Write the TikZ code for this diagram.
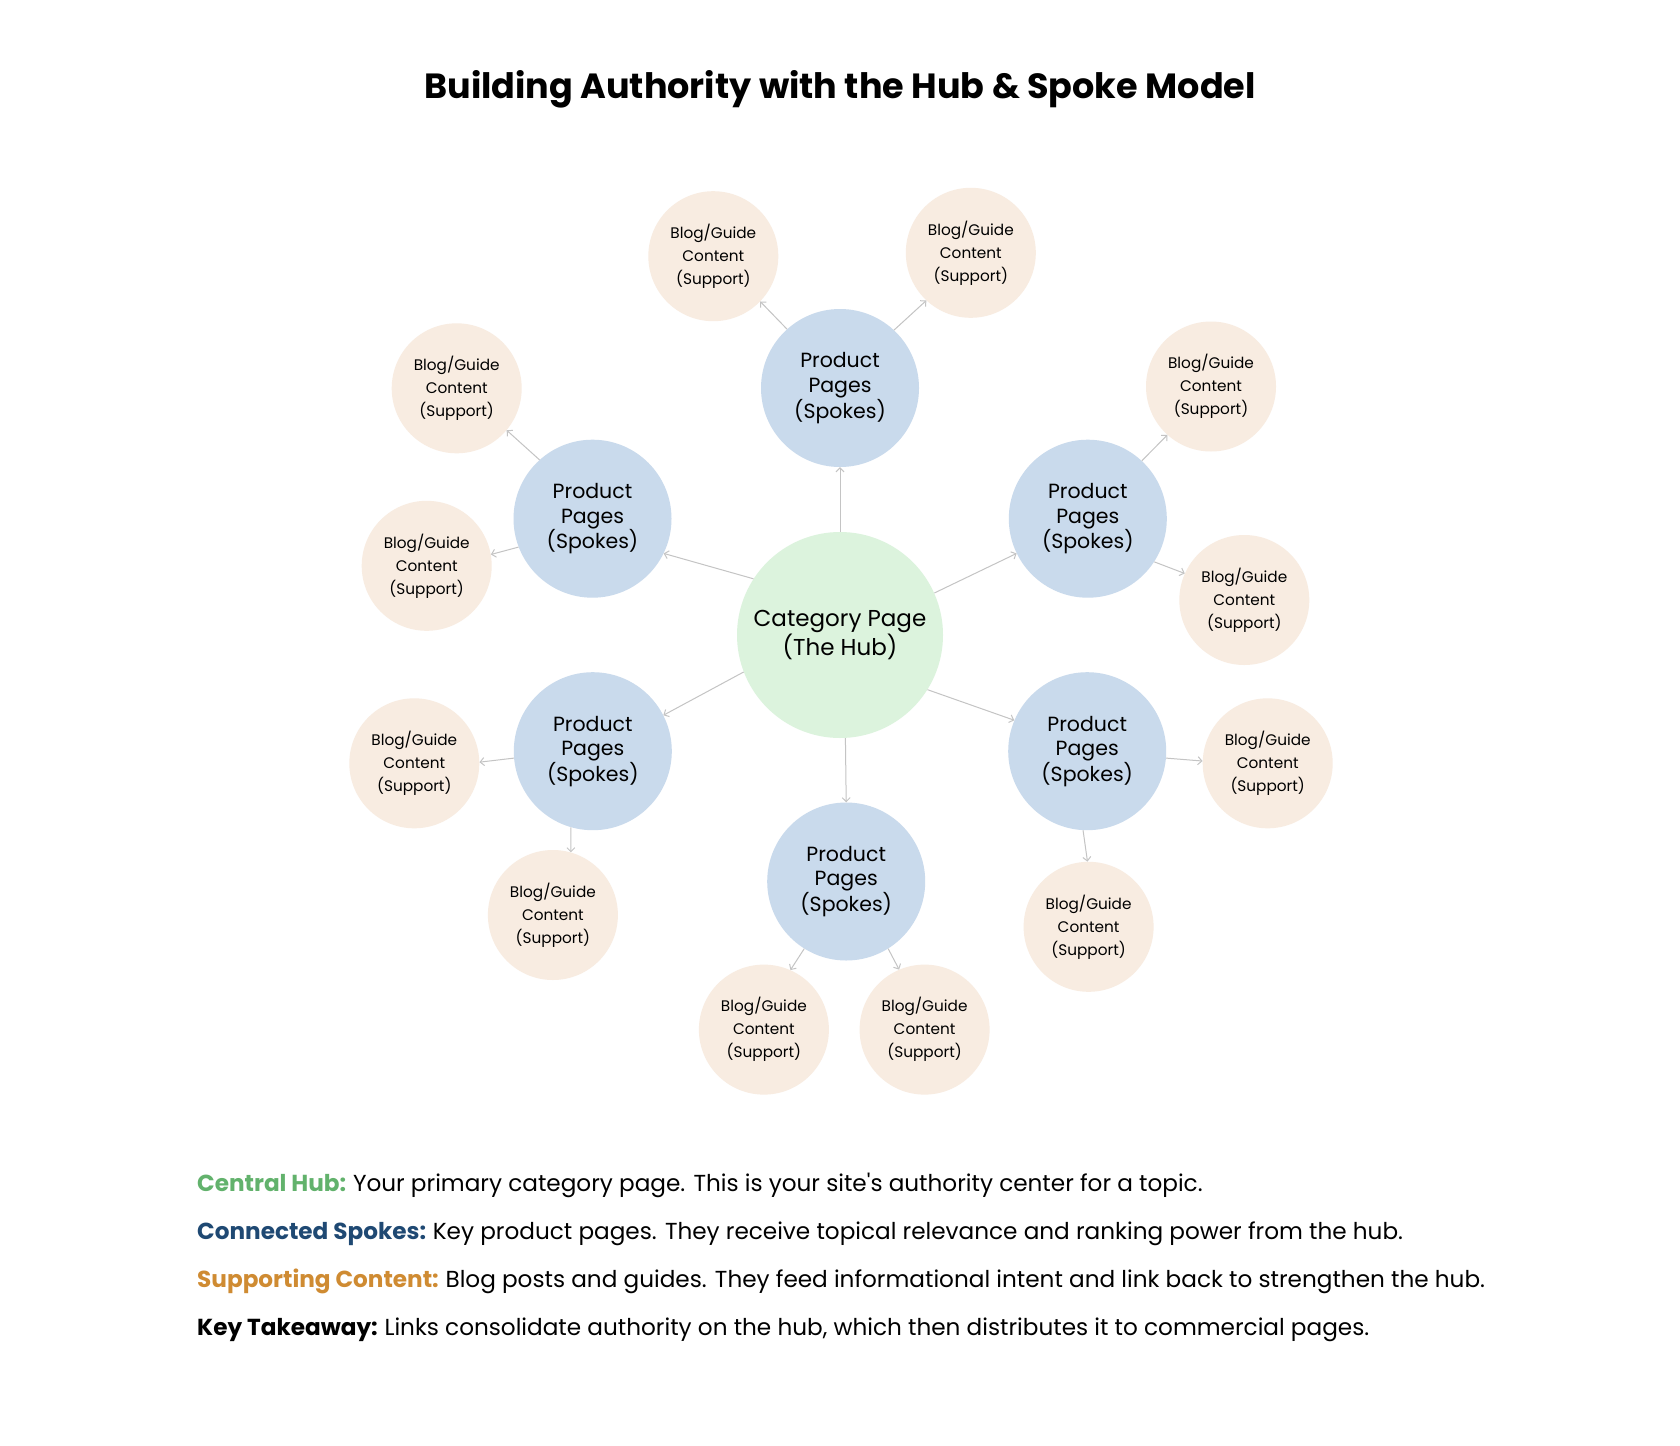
\documentclass[tikz,border=0pt]{standalone}
\usepackage{fontspec}
\setmainfont{Poppins}[Ligatures=TeXOff]
\usetikzlibrary{arrows.meta}
\definecolor{hubfill}{RGB}{220,243,221}
\definecolor{spokefill}{RGB}{201,218,236}
\definecolor{supfill}{RGB}{248,236,225}
\definecolor{linkgray}{RGB}{196,196,196}
\definecolor{hubgreen}{RGB}{98,178,108}
\definecolor{spokenavy}{RGB}{31,73,115}
\definecolor{suporange}{RGB}{207,139,50}
\tikzset{
  hubnode/.style={circle,fill=hubfill,minimum size=206pt,inner sep=0pt,align=center,font=\fontsize{23}{29}\selectfont},
  spokenode/.style={circle,fill=spokefill,minimum size=158pt,inner sep=0pt,align=center,font=\fontsize{20.5}{24.5}\selectfont},
  supnode/.style={circle,fill=supfill,minimum size=130pt,inner sep=0pt,align=center,font=\fontsize{15.3}{23}\selectfont},
  link/.style={draw=linkgray,line width=1pt,-{Straight Barb[length=4pt,width=8pt,line width=1pt]}},
  legend/.style={anchor=base west,inner sep=0pt,font=\fontsize{23.15}{28}\selectfont}
}
\begin{document}
\begin{tikzpicture}[x=1pt,y=-1pt]
\fill[white] (0,0) rectangle (1680,1445);
\useasboundingbox (0,0) rectangle (1680,1445);

\node[inner sep=0pt,font=\fontsize{35}{42}\selectfont\bfseries] (title) at (840,89) {Building Authority with the Hub \& Spoke Model};

\node[hubnode] (hub) at (840,635) {Category Page\\(The Hub)};

\node[spokenode] (st) at (840,388) {Product\\Pages\\(Spokes)};
\node[spokenode] (sul) at (592.5,518.7) {Product\\Pages\\(Spokes)};
\node[spokenode] (sur) at (1087.8,518.7) {Product\\Pages\\(Spokes)};
\node[spokenode] (sll) at (592.8,751.2) {Product\\Pages\\(Spokes)};
\node[spokenode] (slr) at (1087.2,751.2) {Product\\Pages\\(Spokes)};
\node[spokenode] (sb) at (846.2,881.5) {Product\\Pages\\(Spokes)};

\node[supnode] (ta) at (713.3,256.2) {Blog/Guide\\Content\\(Support)};
\node[supnode] (tb) at (970.8,252.8) {Blog/Guide\\Content\\(Support)};
\node[supnode] (ula) at (456.7,388.3) {Blog/Guide\\Content\\(Support)};
\node[supnode] (ulb) at (426.7,565.8) {Blog/Guide\\Content\\(Support)};
\node[supnode] (ura) at (1211,386.5) {Blog/Guide\\Content\\(Support)};
\node[supnode] (urb) at (1244.3,600) {Blog/Guide\\Content\\(Support)};
\node[supnode] (lla) at (414.3,763.3) {Blog/Guide\\Content\\(Support)};
\node[supnode] (llb) at (552.9,915) {Blog/Guide\\Content\\(Support)};
\node[supnode] (lra) at (1267.7,763.3) {Blog/Guide\\Content\\(Support)};
\node[supnode] (lrb) at (1088.6,926.8) {Blog/Guide\\Content\\(Support)};
\node[supnode] (ba) at (763.9,1029.6) {Blog/Guide\\Content\\(Support)};
\node[supnode] (bb) at (924.6,1029.6) {Blog/Guide\\Content\\(Support)};

\draw[link] (hub.90) -- (st.270);
\draw[link] (hub.147.9) -- (sul.334.8);
\draw[link] (hub.24.4) -- (sur.206.6);
\draw[link] (hub.201.3) -- (sll.27.4);
\draw[link] (hub.328.9) -- (slr.157.1);
\draw[link] (hub.273.3) -- (sb.90);

\draw[link] (st.132.1) -- (ta.316.1);
\draw[link] (st.47.8) -- (tb.227.5);
\draw[link] (sul.132.7) -- (ula.320.7);
\draw[link] (sul.201.1) -- (ulb.10.3);
\draw[link] (sur.47.1) -- (ura.228.9);
\draw[link] (sur.327) -- (urb.156.1);
\draw[link] (sll.185.8) -- (lla.1.4);
\draw[link] (sll.254.7) -- (llb.74.5);
\draw[link] (slr.355.5) -- (lra.178);
\draw[link] (slr.267.9) -- (lrb.91);
\draw[link] (sb.238) -- (ba.66.9);
\draw[link] (sb.302.2) -- (bb.113.8);

\node[legend] (l1) at (197,1191) {\textcolor{hubgreen}{\bfseries Central Hub:}\hspace{-1.5pt} Your primary category page. This is your site's authority center for a topic.};
\node[legend] (l2) at (197,1239) {\textcolor{spokenavy}{\bfseries Connected Spokes:}\hspace{-1.5pt} Key product pages. They receive topical relevance and ranking power from the hub.};
\node[legend] (l3) at (197,1287) {\textcolor{suporange}{\bfseries Supporting Content:}\hspace{-1.5pt} Blog posts and guides. They feed informational intent and link back to strengthen the hub.};
\node[legend] (l4) at (197,1335) {{\bfseries Key Takeaway:}\hspace{-1.5pt} Links consolidate authority on the hub, which then distributes it to commercial pages.};
\end{tikzpicture}
\end{document}
